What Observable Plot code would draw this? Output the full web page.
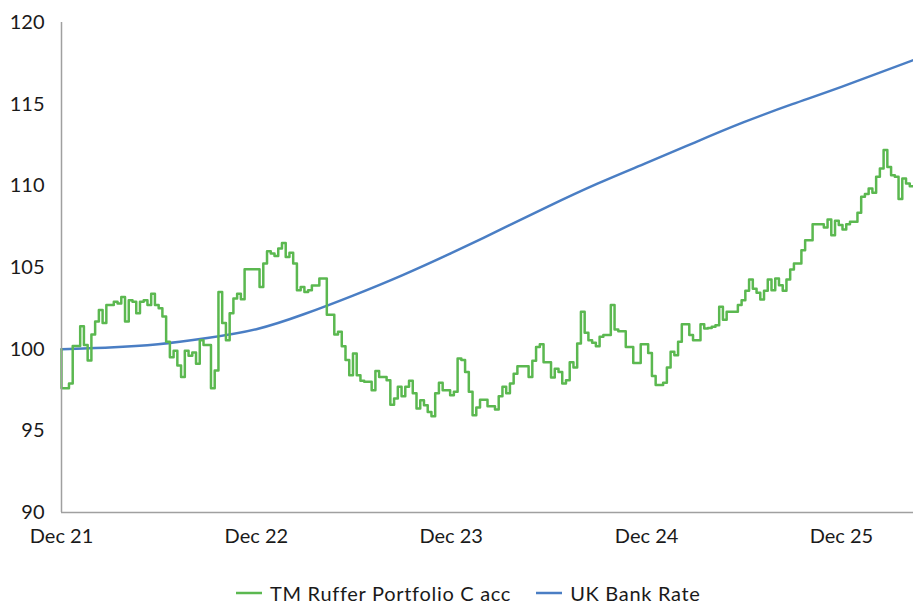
<!DOCTYPE html>
<html><head><meta charset="utf-8">
<script src="https://cdn.jsdelivr.net/npm/d3@7"></script>
<script src="https://cdn.jsdelivr.net/npm/@observablehq/plot@0.6"></script>
<style>
body{margin:0;background:#fff;font-family:Lato,"Open Sans",sans-serif;color:#1a1a1a;overflow:hidden;}
#legend{display:flex;align-items:center;padding-left:236px;margin-top:16px;font-size:20px;letter-spacing:0.7px;height:24px;line-height:24px;}
.item{display:flex;align-items:center;margin-right:25px;}
.item svg{margin-right:8px;}
</style></head><body>
<div id="chart"></div>
<div id="legend"></div>
<script>
const startDate = "2021-12-31"; // first weekly observation
const rufferValues = [
100.0,
97.6, 97.6, 97.9, 100.2, 100.2, 101.4, 100.25, 99.3, 100.9, 101.7,
102.4, 101.6, 102.7, 102.7, 102.9, 102.8, 103.2, 101.7, 103.0, 102.9,
102.2, 102.9, 103.0, 102.7, 103.4, 102.7, 102.5, 102.0, 100.45, 99.5,
99.9, 99.0, 98.3, 99.9, 99.6, 99.8, 99.1, 100.55, 100.25, 100.25,
97.6, 98.7, 103.5, 101.6, 100.55, 102.2, 103.1, 103.4, 103.06, 104.9,
104.9, 104.9, 104.9, 103.8, 105.25, 106.0, 105.86, 105.7, 106.17, 106.5,
105.65, 105.9, 105.25, 103.6, 103.8, 103.5, 103.6, 103.9, 103.9, 104.33,
104.33, 102.1, 102.1, 100.9, 101.06, 100.18, 99.33, 98.4, 99.73, 98.4,
98.06, 98.0, 98.0, 97.49, 98.67, 98.3, 98.3, 98.1, 96.6, 96.98,
97.7, 97.12, 97.7, 98.06, 97.3, 96.37, 96.88, 96.57, 96.16, 95.9,
97.3, 97.94, 97.49, 97.49, 97.18, 97.4, 99.43, 99.33, 98.6, 97.4,
95.96, 96.43, 96.9, 96.9, 96.5, 96.5, 96.3, 97.12, 97.7, 97.3,
97.9, 98.5, 98.96, 98.96, 98.96, 98.3, 99.29, 100.14, 100.3, 99.2,
99.2, 98.26, 98.8, 98.6, 97.9, 98.1, 99.2, 98.88, 100.35, 102.29,
101.0, 100.55, 100.39, 100.18, 100.76, 100.86, 100.86, 102.7, 101.2, 101.1,
101.1, 100.14, 100.14, 99.16, 99.16, 100.3, 100.3, 99.77, 98.35, 97.8,
97.8, 97.94, 98.88, 99.84, 99.63, 100.45, 101.53, 101.53, 100.86, 100.55,
100.55, 101.53, 101.27, 101.3, 101.37, 101.47, 102.6, 101.8, 102.29, 102.29,
102.29, 102.7, 103.0, 103.57, 104.27, 103.7, 103.45, 103.04, 103.57, 104.27,
103.6, 104.33, 103.92, 103.57, 104.27, 104.88, 105.25, 105.25, 106.06, 106.67,
106.67, 107.65, 107.65, 107.65, 107.45, 107.94, 106.98, 107.86, 107.6, 107.33,
107.65, 107.8, 107.8, 108.35, 109.33, 109.5, 109.84, 109.57, 110.55, 111.06,
112.2, 111.16, 110.65, 110.55, 109.2, 110.45, 110.15, 109.98
];
const bankDates = ["2021-12-31","2022-03-31","2022-06-30","2022-09-30","2022-12-31","2023-03-31","2023-06-30","2023-09-30","2023-12-31","2024-03-31","2024-06-30","2024-09-30","2024-12-31","2025-03-31","2025-06-30","2025-09-30","2025-12-31","2026-05-15"];
const bankValues = [100.0, 100.1, 100.3, 100.68, 101.22, 102.15, 103.28, 104.52, 105.88, 107.3, 108.74, 110.13, 111.4, 112.65, 113.88, 115.0, 116.06, 117.7];
const tickDates = ["2021-12-31","2022-12-31","2023-12-31","2024-12-31","2025-12-31"];
const tickLabels = ["Dec 21","Dec 22","Dec 23","Dec 24","Dec 25"];
const yTicks = [90, 95, 100, 105, 110, 115, 120];
const seriesNames = ["TM Ruffer Portfolio C acc", "UK Bank Rate"];
const seriesColors = ["#5BB850", "#4A7EC4"];

const t0 = new Date(startDate);
const ruffer = rufferValues.map((v, i) => ({date: d3.utcDay.offset(t0, 7 * i), value: v}));
const bank = bankDates.map((d, i) => ({date: new Date(d), value: bankValues[i]}));
const endDate = ruffer[ruffer.length - 1].date;
const ticks = tickDates.map(d => new Date(d));

const chart = Plot.plot({
  width: 913,
  height: 565,
  marginTop: 22,
  marginBottom: 53,
  marginLeft: 61,
  marginRight: 0,
  style: {fontFamily: "Lato, 'Open Sans', sans-serif", fontSize: "20px", color: "#1a1a1a", background: "#fff", overflow: "visible"},
  x: {type: "utc", domain: [t0, endDate]},
  y: {domain: [90, 120]},
  marks: [
    Plot.axisY({ticks: yTicks, tickSize: 0, tickPadding: 17, label: null, fontSize: 20}),
    Plot.axisX({ticks: ticks, tickSize: 0, tickPadding: 16, label: null, fontSize: 20, style: {letterSpacing: "0.5px"},
      tickFormat: d => tickLabels[ticks.findIndex(t => +t === +d)]}),
    Plot.line(bank, {x: "date", y: "value", stroke: seriesColors[1], strokeWidth: 2.5, curve: "natural"}),
    Plot.line(ruffer, {x: "date", y: "value", stroke: seriesColors[0], strokeWidth: 2.5, curve: "step-before"}),
    Plot.ruleY([90], {stroke: "#a0a0a0", strokeWidth: 1.5}),
    Plot.ruleX([t0], {stroke: "#a0a0a0", strokeWidth: 1.5})
  ]
});
document.getElementById("chart").appendChild(chart);

const legend = document.getElementById("legend");
seriesNames.forEach((name, i) => {
  const item = document.createElement("div");
  item.className = "item";
  item.innerHTML = `<svg width="26" height="4"><line x1="0" y1="2" x2="26" y2="2" stroke="${seriesColors[i]}" stroke-width="2.5"/></svg><span>${name}</span>`;
  legend.appendChild(item);
});
</script>
</body></html>
